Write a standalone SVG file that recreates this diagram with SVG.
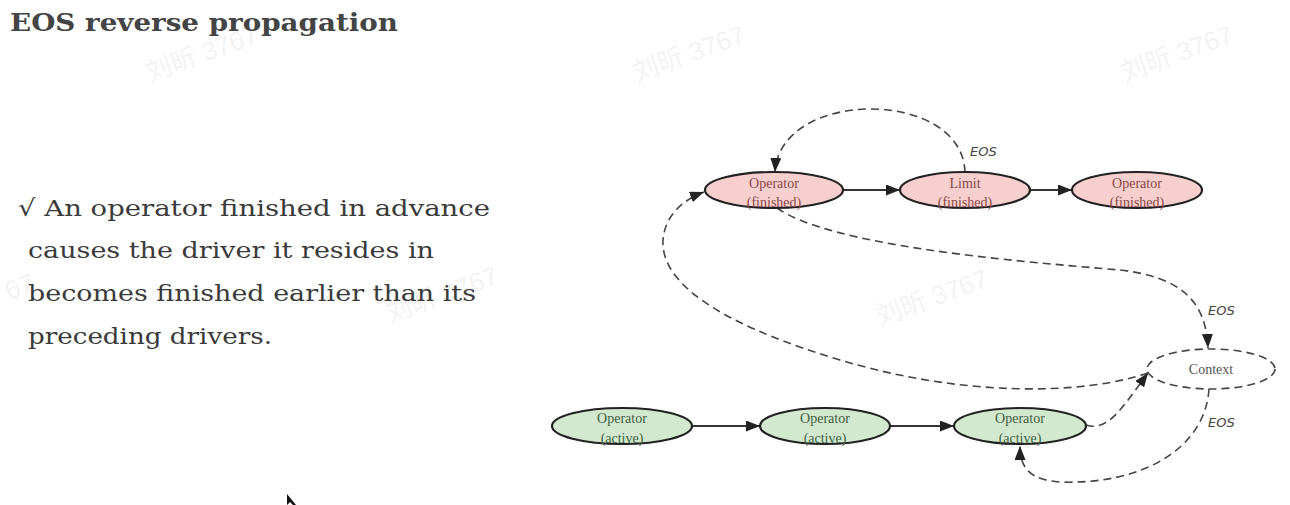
<svg xmlns="http://www.w3.org/2000/svg" width="1290" height="505" viewBox="0 0 1290 505">
<style>
.title{font-family:"DejaVu Serif","Liberation Serif",serif;font-weight:bold;font-size:24px;fill:#444}
.body{font-family:"DejaVu Serif","Liberation Serif",serif;font-size:23px;fill:#3a3a3a}
.wm{font-family:"Liberation Sans","Noto Sans CJK SC",sans-serif;font-size:26px;fill:#f3f3f3}
.fin{fill:#f7cfcf;stroke:#222;stroke-width:2.2}
.act{fill:#d3e9cf;stroke:#222;stroke-width:2.2}
.ctx{fill:#fff;stroke:#444;stroke-width:1.6;stroke-dasharray:8 5}
.ft{font-family:"Liberation Serif",serif;font-size:14px;fill:#8a4848;text-anchor:middle}
.at{font-family:"Liberation Serif",serif;font-size:14px;fill:#3f5f3f;text-anchor:middle}
.ct{font-family:"Liberation Serif",serif;font-size:14px;fill:#555;text-anchor:middle}
.lbl{font-family:"DejaVu Sans","Liberation Sans",sans-serif;font-style:italic;font-size:13px;fill:#444}
.solid{fill:none;stroke:#333;stroke-width:2;marker-end:url(#ah)}
.dash{fill:none;stroke:#444;stroke-width:1.6;stroke-dasharray:8 5;marker-end:url(#ah)}
</style>
<defs>
<marker id="ah" markerUnits="userSpaceOnUse" markerWidth="15" markerHeight="11" refX="14" refY="5.5" orient="auto">
<path d="M0,0 L14,5.5 L0,11 z" fill="#222"/>
</marker>
</defs>
<rect width="1290" height="505" fill="#fff"/>
<g id="watermarks">
<text class="wm" transform="translate(150,82) rotate(-20)">刘昕 3767</text>
<text class="wm" transform="translate(637,82) rotate(-20)">刘昕 3767</text>
<text class="wm" transform="translate(1125,82) rotate(-20)">刘昕 3767</text>
<text class="wm" transform="translate(390,323) rotate(-20)">刘昕 3767</text>
<text class="wm" transform="translate(880,326) rotate(-20)">刘昕 3767</text>
<text class="wm" transform="translate(9,300) rotate(-20)">67</text>
</g>
<text class="title" x="10" y="31" textLength="388" lengthAdjust="spacingAndGlyphs">EOS reverse propagation</text>
<g id="bullet">
<text class="body" x="18" y="216" textLength="472" lengthAdjust="spacingAndGlyphs">√ An operator finished in advance</text>
<text class="body" x="28" y="258" textLength="406" lengthAdjust="spacingAndGlyphs">causes the driver it resides in</text>
<text class="body" x="28" y="301" textLength="448" lengthAdjust="spacingAndGlyphs">becomes finished earlier than its</text>
<text class="body" x="28" y="344" textLength="244" lengthAdjust="spacingAndGlyphs">preceding drivers.</text>
</g>
<g id="connectors">
<path class="solid" d="M843,190 L900,190"/>
<path class="solid" d="M1030,190 L1072,190"/>
<path class="solid" d="M692,426 L760,426"/>
<path class="solid" d="M890,426 L954,426"/>
<path class="dash" d="M965,172 C962,88 780,88 775,172"/>
<path class="dash" d="M777,208 C830,245 1000,260 1120,270 C1180,277 1206,300 1208,348"/>
<path class="dash" d="M1148,373 C1080,396 960,396 840,360 C740,330 660,290 663,240 C665,215 683,200 704,192"/>
<path class="dash" d="M1086,425 C1108,432 1122,408 1148,373"/>
<path class="dash" d="M1209,389 C1205,450 1140,485 1060,482 C1030,480 1020,468 1020,446"/>
<text class="lbl" x="970" y="156">EOS</text>
<text class="lbl" x="1208" y="315">EOS</text>
<text class="lbl" x="1208" y="427">EOS</text>
</g>
<g id="op-fin-1"><ellipse class="fin" cx="774" cy="190" rx="69" ry="18"/><text class="ft" x="774" y="188">Operator</text><text class="ft" x="774" y="207">(finished)</text></g>
<g id="limit"><ellipse class="fin" cx="965" cy="190" rx="65" ry="18"/><text class="ft" x="965" y="188">Limit</text><text class="ft" x="965" y="207">(finished)</text></g>
<g id="op-fin-3"><ellipse class="fin" cx="1137" cy="190" rx="65" ry="18"/><text class="ft" x="1137" y="188">Operator</text><text class="ft" x="1137" y="207">(finished)</text></g>
<g id="op-act-1"><ellipse class="act" cx="622" cy="426" rx="70" ry="18"/><text class="at" x="622" y="423">Operator</text><text class="at" x="622" y="443">(active)</text></g>
<g id="op-act-2"><ellipse class="act" cx="825" cy="426" rx="65" ry="18"/><text class="at" x="825" y="423">Operator</text><text class="at" x="825" y="443">(active)</text></g>
<g id="op-act-3"><ellipse class="act" cx="1020" cy="426" rx="66" ry="18"/><text class="at" x="1020" y="423">Operator</text><text class="at" x="1020" y="443">(active)</text></g>
<g id="context"><ellipse class="ctx" cx="1211" cy="369" rx="64" ry="20"/><text class="ct" x="1211" y="374">Context</text></g>
<path d="M287,494 L287,505 L290,502 L293,505 L296,505 Z" fill="#111"/>
</svg>
